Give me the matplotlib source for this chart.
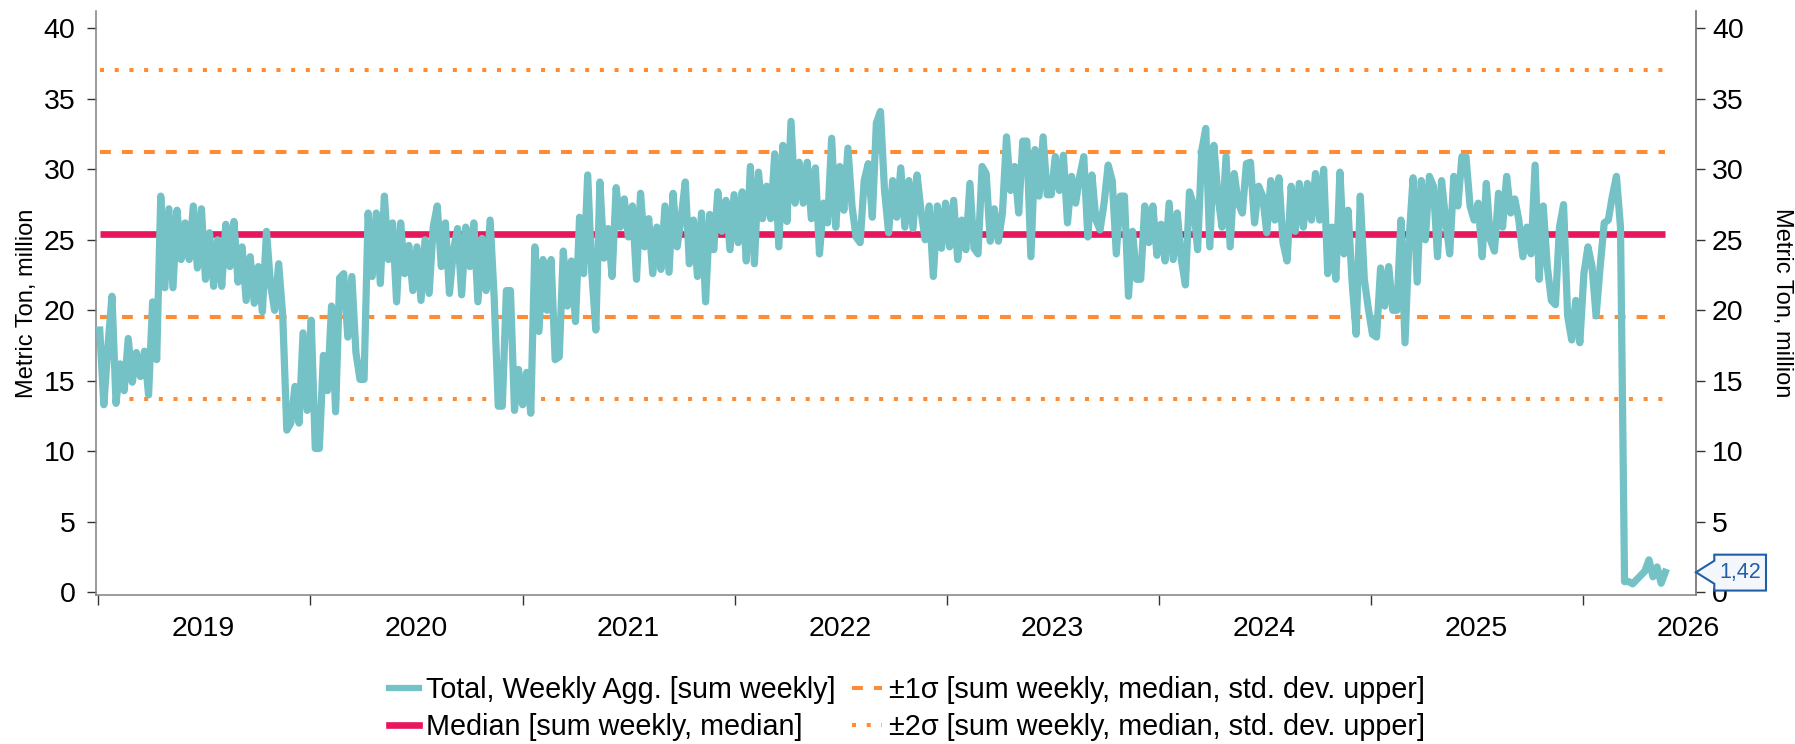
import matplotlib
matplotlib.use('Agg')
import matplotlib.pyplot as plt
import matplotlib.dates as mdates
import matplotlib.transforms as mtransforms
from matplotlib.patches import Polygon
from matplotlib.lines import Line2D
import pandas as pd

plt.rcParams['font.family'] = ['Liberation Sans', 'DejaVu Sans']

# ---------------- data (weekly sums, Metric Ton, million) ----------------
start_date = '2019-01-04'
total_2019 = [18.6, 13.3, 17.4, 21.0, 13.4, 16.2, 14.3, 18.0, 14.9, 17.0,
              15.3, 17.1, 14.0, 20.6, 16.5, 28.1, 21.6, 27.2, 21.6, 27.1,
              23.6, 26.2, 23.6, 27.4, 23.0, 27.2, 22.2, 25.5, 21.7, 25.0,
              21.7, 26.1, 23.1, 26.3, 22.0, 24.5, 20.7, 23.8, 20.5, 23.1,
              19.9, 25.6, 21.8, 20.0, 23.3, 19.6, 11.5, 12.0, 14.6, 12.0,
              18.4, 12.9]
total_2020 = [19.3, 10.2, 10.2, 16.8, 14.3, 20.3, 12.8, 22.3, 22.6, 18.1,
              22.4, 17.0, 15.1, 15.1, 26.9, 22.4, 26.9, 21.9, 28.1, 23.6,
              26.2, 20.6, 26.2, 22.6, 24.6, 21.4, 24.5, 20.7, 25.0, 21.2,
              25.9, 27.4, 23.1, 26.2, 21.2, 24.3, 25.8, 21.1, 25.9, 23.1,
              26.2, 20.6, 25.1, 21.4, 26.4, 20.9, 13.2, 13.2, 21.4, 21.4,
              12.9, 15.8]
total_2021 = [13.3, 15.6, 12.7, 24.5, 18.5, 23.6, 20.0, 23.6, 16.5, 16.7,
              24.2, 20.3, 23.5, 19.2, 26.6, 22.6, 29.6, 22.7, 18.6, 29.1,
              23.7, 25.8, 22.4, 28.7, 25.9, 27.9, 25.2, 27.4, 22.2, 28.3,
              24.5, 26.5, 22.6, 25.9, 22.9, 27.4, 22.7, 28.3, 24.5, 26.6,
              29.1, 23.3, 26.4, 22.4, 26.9, 20.6, 26.8, 24.3, 28.4, 25.6,
              27.8, 24.3]
total_2022 = [28.2, 24.8, 28.4, 23.5, 30.2, 23.3, 29.8, 26.5, 28.8, 26.5,
              31.1, 24.5, 31.7, 26.3, 33.4, 27.6, 30.5, 27.6, 30.5, 26.5,
              30.1, 24.0, 27.6, 26.2, 32.2, 25.9, 30.2, 27.1, 31.5, 27.4,
              25.2, 24.8, 29.2, 30.4, 26.6, 33.3, 34.1, 28.5, 25.5, 29.2,
              26.6, 30.1, 25.9, 29.2, 25.8, 29.6, 27.0, 25.0, 27.4, 22.4,
              27.4, 24.4]
total_2023 = [27.6, 24.5, 27.8, 23.6, 26.4, 24.3, 29.0, 24.4, 24.0, 30.2,
              29.7, 24.9, 27.2, 24.9, 26.9, 32.3, 28.5, 30.2, 26.9, 32.0,
              32.0, 23.8, 31.4, 28.1, 32.3, 28.2, 28.2, 30.9, 28.5, 31.0,
              26.2, 29.5, 27.6, 29.5, 30.9, 25.2, 29.6, 26.4, 25.7, 27.6,
              30.3, 29.2, 24.0, 28.1, 28.1, 21.0, 25.6, 22.2, 22.2, 27.4,
              24.8, 27.4]
total_2024 = [23.9, 26.1, 23.5, 27.6, 23.6, 26.9, 23.6, 21.8, 28.4, 27.5,
              24.3, 31.3, 32.9, 24.5, 31.7, 28.1, 25.9, 30.9, 24.5, 29.7,
              27.6, 26.9, 30.4, 30.5, 26.2, 28.8, 28.1, 25.5, 29.2, 26.4,
              29.4, 24.8, 23.5, 28.8, 25.6, 29.0, 25.9, 29.0, 26.4, 29.7,
              26.4, 30.0, 22.6, 25.9, 22.2, 29.8, 24.0, 27.1, 22.0, 18.3,
              28.1, 22.2]
total_2025 = [20.1, 18.3, 18.1, 23.0, 20.3, 23.1, 20.0, 20.0, 26.4, 17.7,
              25.0, 29.4, 22.0, 29.2, 25.0, 29.5, 28.8, 23.8, 29.2, 26.4,
              24.0, 29.5, 27.4, 30.9, 30.9, 27.4, 26.4, 27.6, 23.8, 29.0,
              25.0, 24.2, 28.3, 25.9, 29.5, 26.9, 27.9, 26.4, 23.8, 25.9,
              24.0, 30.3, 22.2, 27.4, 23.1, 20.7, 20.4, 25.9, 27.5, 19.6,
              17.9, 20.7]
total_2026 = [17.7, 22.6, 24.5, 23.1, 19.6, 23.1, 26.2, 26.4, 28.1, 29.5,
              25.9, 0.76, 0.76, 0.6, 0.9, 1.2, 1.5, 2.3, 1.1, 1.8,
              0.64, 1.42]

total = (total_2019 + total_2020 + total_2021 + total_2022 + total_2023
         + total_2024 + total_2025 + total_2026)
dates = pd.date_range(start_date, periods=len(total), freq='7D')

median_value = 25.38
sigma1_upper = 31.22
sigma1_lower = 19.54
sigma2_upper = 37.06
sigma2_lower = 13.70
last_label = '1,42'

year_labels = ['2019', '2020', '2021', '2022', '2023', '2024', '2025', '2026']

legend_labels = ['Total, Weekly Agg. [sum weekly]',
                 'Median [sum weekly, median]',
                 '\u00b11\u03c3 [sum weekly, median, std. dev. upper]',
                 '\u00b12\u03c3 [sum weekly, median, std. dev. upper]']

# ---------------- style ----------------
TEAL = '#74C1C6'
RED = '#E8175D'
ORANGE = '#FF8C35'
SPINE = '#808080'
BLUE = '#1F5FAA'
dash_style = (0, (2.7, 2.75))
dot_style = (0, (1.0, 2.65))

W, H = 1795, 744
fig = plt.figure(figsize=(W / 100, H / 100), dpi=100)
ax_left, ax_right = 95.7, 1696.0
ax_top, ax_bottom = 11.4, 595.1
ax = fig.add_axes([ax_left / W, 1 - ax_bottom / H,
                   (ax_right - ax_left) / W, (ax_bottom - ax_top) / H])

x0, x1 = dates[0], dates[-1]
ax.plot([x0, x1], [sigma2_upper] * 2, color=ORANGE, lw=2.9, ls=dot_style, zorder=2)
ax.plot([x0, x1], [sigma2_lower] * 2, color=ORANGE, lw=2.9, ls=dot_style, zorder=2)
ax.plot([x0, x1], [sigma1_upper] * 2, color=ORANGE, lw=2.9, ls=dash_style, zorder=2)
ax.plot([x0, x1], [sigma1_lower] * 2, color=ORANGE, lw=2.9, ls=dash_style, zorder=2)
ax.plot([x0, x1], [median_value] * 2, color=RED, lw=4.8, solid_capstyle='butt', zorder=3)
ax.plot(dates, total, color=TEAL, lw=5.2, solid_joinstyle='round', zorder=4)

ax.set_ylim(-0.2, 41.2)
ax.set_xlim(pd.Timestamp('2018-12-28'), pd.Timestamp('2026-07-14'))

ax.set_yticks(range(0, 41, 5))
ax.tick_params(axis='y', labelsize=20.5, length=6.5, width=1.0, color='#333333', pad=8)

ax.xaxis.set_major_locator(mdates.YearLocator())
ax.xaxis.set_major_formatter(plt.NullFormatter())
label_pos = [pd.Timestamp(f'{y}-07-01') for y in year_labels]
ax.set_xticks(label_pos, minor=True)
ax.set_xticklabels(year_labels, minor=True)
ax.tick_params(axis='x', which='major', length=7, width=1.0, color='#333333')
ax.tick_params(axis='x', which='minor', length=0, labelsize=20.5, pad=15)

for s in ['left', 'bottom', 'right']:
    ax.spines[s].set_color(SPINE)
    ax.spines[s].set_linewidth(1.1)
ax.spines['top'].set_visible(False)

ax2 = ax.twinx()
ax2.set_ylim(ax.get_ylim())
ax2.set_yticks(range(0, 41, 5))
ax2.tick_params(axis='y', labelsize=20.5, length=6.5, width=1.0, color='#333333', pad=5)
for s in ['left', 'bottom', 'top']:
    ax2.spines[s].set_visible(False)
ax2.spines['right'].set_color(SPINE)
ax2.spines['right'].set_linewidth(1.1)

fig.text(27 / W, 1 - 303 / H, 'Metric Ton, million', rotation=90,
         ha='center', va='center', fontsize=17)
fig.text(1782 / W, 1 - 303 / H, 'Metric Ton, million', rotation=270,
         ha='center', va='center', fontsize=17)

# ---------------- legend ----------------
handles = [Line2D([], [], color=TEAL, lw=4.5),
           Line2D([], [], color=RED, lw=4.8),
           Line2D([], [], color=ORANGE, lw=2.9, ls=dash_style),
           Line2D([], [], color=ORANGE, lw=2.9, ls=dot_style)]
fig.legend(handles, legend_labels, ncol=2, loc='upper left',
           bbox_to_anchor=(389 / W, 1 - 676 / H), frameon=False,
           fontsize=20.7, handlelength=1.05, handletextpad=0.25,
           columnspacing=0.55, labelspacing=0.3, borderpad=0, borderaxespad=0)

# ---------------- last value callout ----------------
trans = mtransforms.blended_transform_factory(ax.transAxes, ax.transData)
px, py = trans.transform((1.0, total[-1]))
left, right = px + 18.3, px + 70
top, bot = py + 17.6, py - 18.3
verts = [(px, py), (left, py + 11.5), (left, top), (right, top),
         (right, bot), (left, bot), (left, py - 11.5)]
callout = Polygon(verts, closed=True, facecolor='#F3F6FA', edgecolor=BLUE,
                  lw=1.5, transform=mtransforms.IdentityTransform(), zorder=10)
fig.add_artist(callout)
fig.text((left + right) / 2, py - 0.5, last_label,
         transform=mtransforms.IdentityTransform(),
         ha='center', va='center', fontsize=15.5, color=BLUE, zorder=11)

fig.savefig('out.png', dpi=100)
